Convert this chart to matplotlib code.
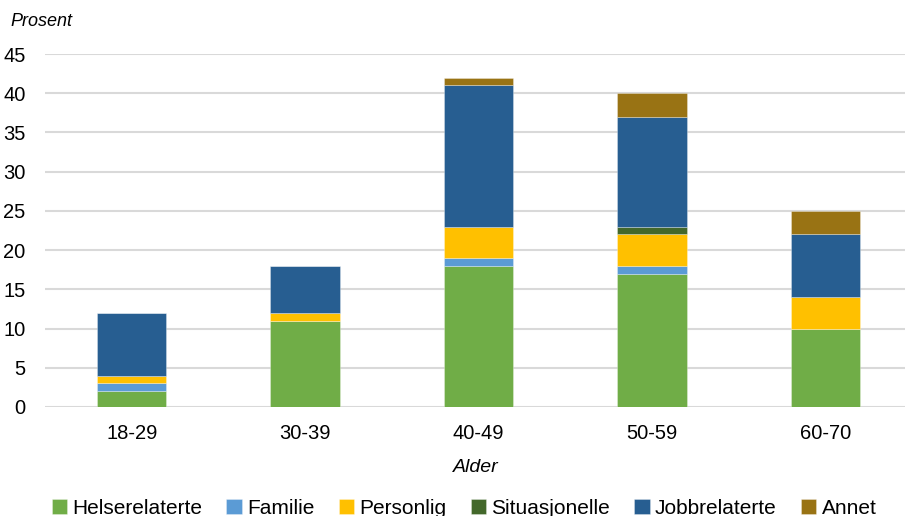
import matplotlib
matplotlib.use("Agg")
import matplotlib.pyplot as plt
import numpy as np

plt.rcParams['font.family'] = ['Liberation Sans', 'DejaVu Sans']

categories = ["18-29", "30-39", "40-49", "50-59", "60-70"]
series_names = ["Helserelaterte", "Familie", "Personlig", "Situasjonelle", "Jobbrelaterte", "Annet"]
helse = [2, 11, 18, 17, 10]
familie = [1, 0, 1, 1, 0]
personlig = [1, 1, 4, 4, 4]
situasjonelle = [0, 0, 0, 1, 0]
jobb = [8, 6, 18, 14, 8]
annet = [0, 0, 1, 3, 3]
yticks = [0, 5, 10, 15, 20, 25, 30, 35, 40, 45]

colors = ["#70AD47", "#5B9BD5", "#FFC000", "#43682B", "#275E91", "#997314"]
series = [helse, familie, personlig, situasjonelle, jobb, annet]

fig = plt.figure(figsize=(9.05, 5.16), dpi=100)
ax = fig.add_axes([45/905, 109/516, 867/905, (407-54)/516])

x = np.arange(len(categories))
bottom = np.zeros(len(categories))
handles = []
for name, vals, c in zip(series_names, series, colors):
    vals = np.array(vals, dtype=float)
    b = ax.bar(x, vals, 0.4, bottom=bottom, color=c, label=name,
               edgecolor=(1, 1, 1, 0.35), linewidth=0.6, zorder=3)
    handles.append(b)
    bottom += vals

ax.set_xlim(-0.5, 4.5)
ax.set_ylim(0, 45)
ax.set_yticks(yticks)
ax.set_xticks(x)
ax.set_xticklabels(categories)
ax.grid(axis='y', color='#d9d9d9', linewidth=1.5, zorder=0)
for s in ax.spines.values():
    s.set_visible(False)
ax.tick_params(axis='both', length=0, labelsize=14.5, colors='#000000')
ax.tick_params(axis='y', pad=14)
ax.tick_params(axis='x', pad=12)

fig.text(10/905, 1-22/516, "Prosent", style='italic', fontsize=13, va='center', ha='left')
fig.text(476/905, 1-468/516, "Alder", style='italic', fontsize=14, va='center', ha='center')

fig.legend(handles=handles, labels=series_names, loc='center', ncol=6,
           bbox_to_anchor=(464/905, 1-508/516), frameon=False, fontsize=15,
           handlelength=0.75, handleheight=0.75, handletextpad=0.25,
           columnspacing=1.15, borderaxespad=0)

fig.savefig("out.png", dpi=100)
